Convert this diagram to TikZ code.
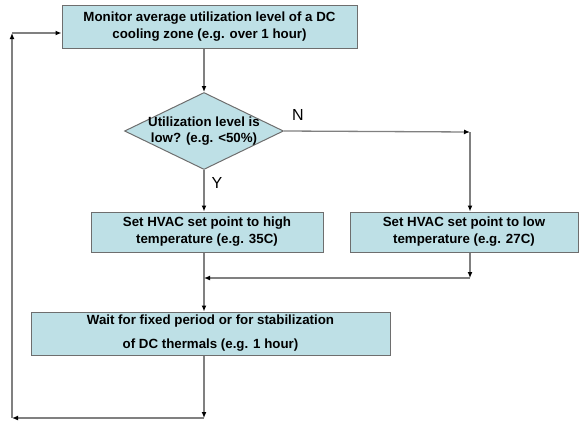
\documentclass[tikz,border=0pt]{standalone}
\usepackage{fontspec}
\setmainfont{Liberation Sans}
\usetikzlibrary{arrows.meta,shapes.geometric}
\definecolor{boxfill}{RGB}{190,224,230}
\definecolor{boxline}{RGB}{110,110,110}
\definecolor{conn}{RGB}{128,128,128}
\tikzset{
  box/.style={draw=boxline,fill=boxfill,line width=1pt,rectangle,inner sep=0pt,align=center,
    font=\fontsize{13.3}{17}\selectfont\bfseries},
  dia/.style={draw=boxline,fill=boxfill,line width=1pt,diamond,inner sep=0pt},
  diatext/.style={align=center,inner sep=0pt,font=\fontsize{13.3}{16.5}\selectfont\bfseries},
  lbl/.style={font=\fontsize{16}{18}\selectfont,inner sep=0pt},
  conn/.style={draw=conn,line width=1.3pt,-{Latex[length=6pt,width=5pt,color=black]}},
  plain/.style={draw=conn,line width=1.3pt}
}
\begin{document}
\begin{tikzpicture}[x=1pt,y=-1pt]
\useasboundingbox (0,0) rectangle (579,421);
\node[box,minimum width=295pt,minimum height=43pt] (top) at (209.5,26.5)
  {Monitor average utilization level of a DC\\cooling zone (e.g. over 1 hour)};
\node[dia,minimum width=159pt,minimum height=77pt] (d) at (204,131) {};
\node[diatext] (dt) at (204,131) {Utilization level is\\low? (e.g. {<}50\%)};
\node[box,minimum width=232pt,minimum height=40pt] (lb) at (207,232)
  {Set HVAC set point to high\\temperature (e.g. 35C)};
\node[box,minimum width=228pt,minimum height=40pt] (rb) at (464,232)
  {Set HVAC set point to low\\temperature (e.g. 27C)};
\node[box,minimum width=359pt,minimum height=43pt,font=\fontsize{13.3}{24}\selectfont\bfseries] (w) at (210.5,333.5)
  {Wait for fixed period or for stabilization\\of DC thermals (e.g. 1 hour)};
\node[lbl] (n) at (298,115) {N};
\node[lbl] (y) at (217,183) {Y};
\coordinate (n1) at (470,132);
\coordinate (m1) at (470,278);
\coordinate (m2) at (204,278);
\coordinate (b1) at (204,418);
\coordinate (b2) at (12,418);
\coordinate (b3) at (12,33);
% connectors
\draw[conn] (d.north |- top.south) -- (d.north);
\draw[conn] (d.east) -- (n1);
\draw[conn] (n1) -- (n1 |- rb.north);
\draw[conn] (d.south) -- (d.south |- lb.north);
\draw[plain] (d.south |- lb.south) -- (m2);
\draw[conn] (m2) -- (m2 |- w.north);
\draw[conn] (n1 |- rb.south) -- (m1);
\draw[conn] (m1) -- (m2);
\draw[conn] (m2 |- w.south) -- (b1);
\draw[conn] (b1) -- (b2);
\draw[conn] (b2) -- (b3);
\draw[conn] (b3) -- (b3 -| top.west);
\end{tikzpicture}
\end{document}
